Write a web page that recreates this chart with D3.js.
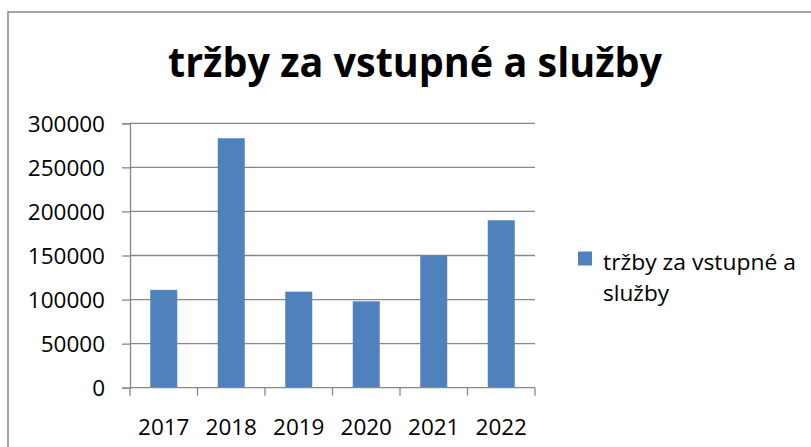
<!DOCTYPE html>
<html><head><meta charset="utf-8">
<script src="https://cdn.jsdelivr.net/npm/d3@7"></script>
<style>html,body{margin:0;padding:0;background:#fff;}svg{display:block;}</style>
</head><body>
<script>
const categories = ["2017","2018","2019","2020","2021","2022"];
const values = [111000, 283000, 109000, 98000, 150000, 190000];
const yTicks = [0, 50000, 100000, 150000, 200000, 250000, 300000];
const titleText = "tržby za vstupné a služby";
const legendLines = ["tržby za vstupné a", "služby"];

const W = 811, H = 447;
const svg = d3.select("body").append("svg").attr("width", W).attr("height", H);
svg.append("rect").attr("x", 8).attr("y", 12).attr("width", 820).attr("height", 460)
  .attr("fill", "#fff").attr("stroke", "#868686").attr("stroke-width", 1.5);

const x = d3.scaleBand().domain(categories).range([130, 535]).paddingInner(0.6).paddingOuter(0.3);
const y = d3.scaleLinear().domain([0, 300000]).range([387.7, 123.3]);

// gridlines
svg.append("g").selectAll("line").data(yTicks.filter(d => d > 0)).join("line")
  .attr("x1", 130).attr("x2", 535).attr("y1", d => y(d)).attr("y2", d => y(d))
  .attr("stroke", "#878787").attr("stroke-width", 1.3);

// bars
svg.append("g").selectAll("rect").data(values).join("rect")
  .attr("x", (d, i) => x(categories[i])).attr("width", x.bandwidth())
  .attr("y", d => y(d)).attr("height", d => y(0) - y(d))
  .attr("fill", "#4F81BD");

// y axis
const yAxis = d3.axisLeft(y).tickValues(yTicks).tickSize(8).tickPadding(17).tickFormat(d3.format("d"));
const gy = svg.append("g").attr("transform", "translate(130,0)").call(yAxis);
gy.select(".domain").attr("stroke", "#878787").attr("stroke-width", 1.3);
gy.selectAll(".tick line").attr("stroke", "#878787").attr("stroke-width", 1.3);
gy.selectAll(".tick text").attr("font-family", "Open Sans").attr("font-size", 22.5).attr("fill", "#000")
  .attr("dy", "0.36em");

// x axis
const step = x.step();
const gx = svg.append("g").attr("transform", `translate(0,${y(0)})`);
gx.append("line").attr("x1", 130).attr("x2", 535).attr("stroke", "#878787").attr("stroke-width", 1.3);
const bounds = d3.range(categories.length + 1).map(i => 130 + i * step);
gx.selectAll("line.t").data(bounds).join("line").attr("class", "t")
  .attr("x1", d => d).attr("x2", d => d).attr("y1", 0).attr("y2", 8)
  .attr("stroke", "#878787").attr("stroke-width", 1.3);
gx.selectAll("text").data(categories).join("text")
  .attr("x", d => x(d) + x.bandwidth() / 2).attr("y", 47)
  .attr("text-anchor", "middle").attr("font-family", "Open Sans").attr("font-size", 22.5).attr("fill", "#000")
  .text(d => d);

// title
svg.append("text").attr("x", 415).attr("y", 77).attr("text-anchor", "middle")
  .attr("font-family", "Open Sans").attr("font-weight", "bold").attr("font-size", 41)
  .attr("textLength", 494).attr("lengthAdjust", "spacingAndGlyphs").attr("fill", "#000")
  .text(titleText);

// legend
svg.append("rect").attr("x", 578).attr("y", 251.5).attr("width", 14).attr("height", 14).attr("fill", "#4F81BD");
const legLens = [193, 66];
svg.append("g").selectAll("text").data(legendLines).join("text")
  .attr("x", 603).attr("y", (d, i) => 270 + i * 31)
  .attr("font-family", "Open Sans").attr("font-size", 22).attr("fill", "#000")
  .attr("textLength", (d, i) => legLens[i]).attr("lengthAdjust", "spacingAndGlyphs")
  .text(d => d);
</script>
</body></html>
